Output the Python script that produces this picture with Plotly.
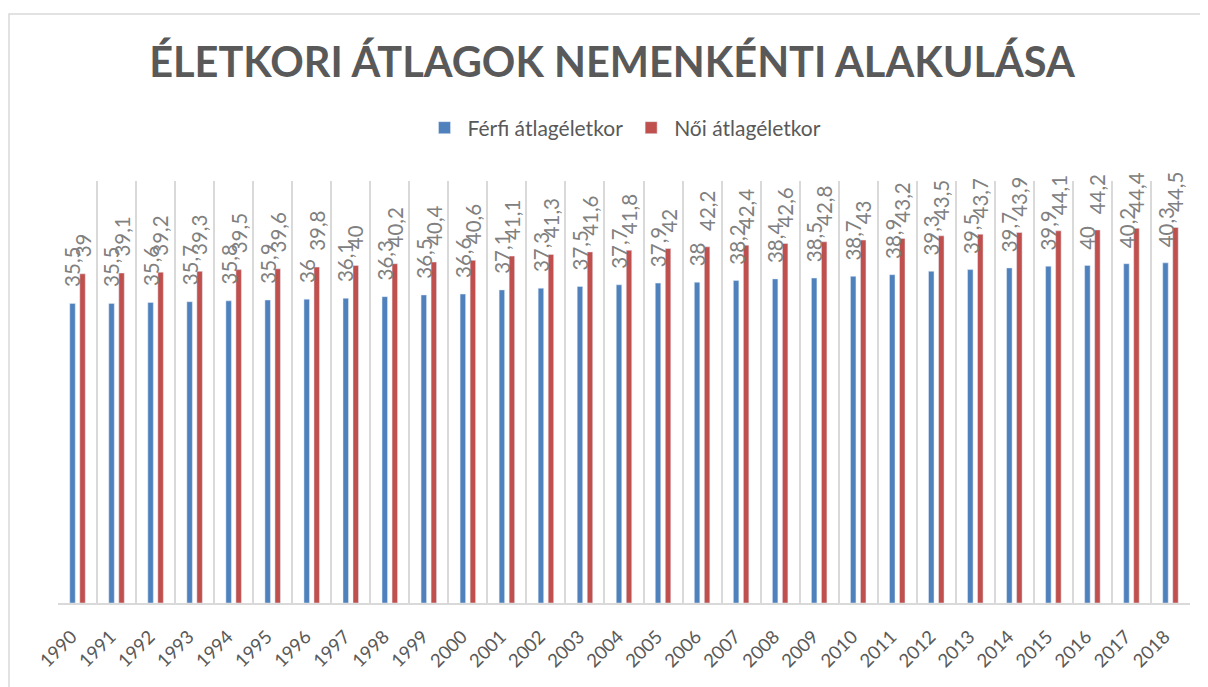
import plotly.graph_objects as go

years = [str(y) for y in range(1990, 2019)]
ferfi = [35.5, 35.5, 35.6, 35.7, 35.8, 35.9, 36, 36.1, 36.3, 36.5, 36.6, 37.1, 37.3, 37.5,
         37.7, 37.9, 38, 38.2, 38.4, 38.5, 38.7, 38.9, 39.3, 39.5, 39.7, 39.9, 40, 40.2, 40.3]
noi = [39, 39.1, 39.2, 39.3, 39.5, 39.6, 39.8, 40, 40.2, 40.4, 40.6, 41.1, 41.3, 41.6,
       41.8, 42, 42.2, 42.4, 42.6, 42.8, 43, 43.2, 43.5, 43.7, 43.9, 44.1, 44.2, 44.4, 44.5]


def fmt(v):
    return ("%g" % v).replace(".", ",")


FONT = "Lato"
LABEL_COLOR = "#808080"
TEXT_COLOR = "#595959"
BARGAP = 0.487
BARGROUPGAP = 0.45

# page body has an 8px margin: figure sized to fit inside the window
W, H = 1200, 679
PL, PR, PT, PB = 50, 18, 173, 84
plot_w = W - PL - PR
plot_h = H - PT - PB

fig = go.Figure()
fig.add_trace(go.Bar(x=years, y=ferfi, name="Férfi átlagéletkor", marker_color="#4f81bd"))
fig.add_trace(go.Bar(x=years, y=noi, name="Női átlagéletkor", marker_color="#c0504d"))

# data labels (rotated, above each bar), placed on the category axis with the group offset
off = (1 - BARGAP) / 4
annotations = []
for series, sign in ((ferfi, -1), (noi, 1)):
    for i, v in enumerate(series):
        annotations.append(dict(
            x=i + sign * off, y=v, xref="x", yref="y", text=fmt(v),
            showarrow=False, textangle=-90, xanchor="center", yanchor="bottom",
            yshift=14, font=dict(family=FONT, size=20.5, color=LABEL_COLOR),
        ))

fig.update_layout(
    width=W, height=H,
    margin=dict(l=PL, r=PR, t=PT, b=PB, autoexpand=False),
    paper_bgcolor="white", plot_bgcolor="white",
    barmode="group", bargap=BARGAP, bargroupgap=BARGROUPGAP,
    font=dict(family=FONT, color=TEXT_COLOR),
    title=dict(
        text="<b>ÉLETKORI ÁTLAGOK NEMENKÉNTI ALAKULÁSA</b>",
        x=(612 - 8) / W, xanchor="center", xref="container",
        y=1 - (62 - 8) / H, yanchor="middle", yref="container",
        font=dict(family=FONT, size=41.5, color=TEXT_COLOR),
    ),
    legend=dict(
        orientation="h", x=0.5, xanchor="center",
        y=(603 - 128) / plot_h, yanchor="middle",
        font=dict(family=FONT, size=21, color=TEXT_COLOR),
        traceorder="normal", itemwidth=36,
    ),
    showlegend=True,
    annotations=annotations,
    shapes=[dict(type="rect", xref="paper", yref="paper",
                 x0=(1 - PL) / plot_w, x1=1.2, y0=-1, y1=(plot_h + PT - 6) / plot_h,
                 line=dict(color="#d9d9d9", width=1.5), layer="below")],
)
fig.update_xaxes(
    type="category", tickson="boundaries", showgrid=True, gridcolor="#d9d9d9", gridwidth=1.5,
    showline=True, linecolor="#d9d9d9", linewidth=1.5, ticks="", automargin=False,
    tickangle=-45, ticklabelstandoff=14, ticklabelshift=-6,
    tickfont=dict(family=FONT, size=18.5, color=TEXT_COLOR),
)
fig.update_yaxes(range=[0, 50], visible=False, showgrid=False, zeroline=False, automargin=False)

fig.write_html("out.html")
